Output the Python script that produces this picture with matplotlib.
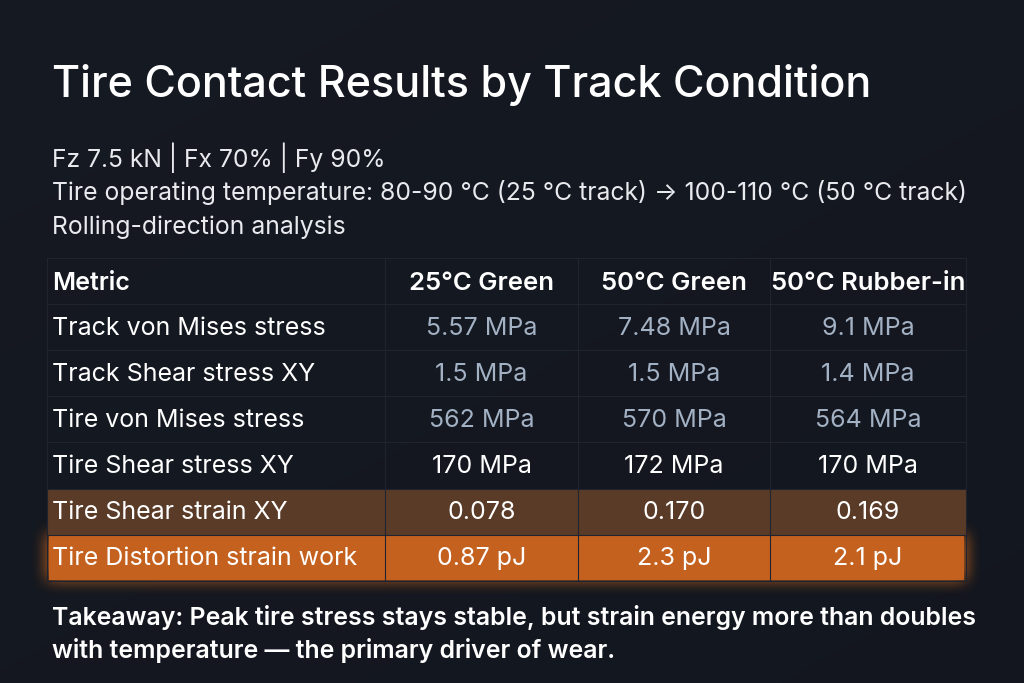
import numpy as np
import matplotlib
matplotlib.use("Agg")
import matplotlib.pyplot as plt
from matplotlib.patches import Rectangle

plt.rcParams['font.family'] = ['Inter', 'DejaVu Sans']

title = "Tire Contact Results by Track Condition"
subtitle_lines = [
    "Fz 7.5 kN | Fx 70% | Fy 90%",
    "Tire operating temperature: 80-90 °C (25 °C track) → 100-110 °C (50 °C track)",
    "Rolling-direction analysis",
]
columns = ["Metric", "25°C Green", "50°C Green", "50°C Rubber-in"]
metrics = [
    "Track von Mises stress",
    "Track Shear stress XY",
    "Tire von Mises stress",
    "Tire Shear stress XY",
    "Tire Shear strain XY",
    "Tire Distortion strain work",
]
green25 = ["5.57 MPa", "1.5 MPa", "562 MPa", "170 MPa", "0.078", "0.87 pJ"]
green50 = ["7.48 MPa", "1.5 MPa", "570 MPa", "172 MPa", "0.170", "2.3 pJ"]
rubber50 = ["9.1 MPa", "1.4 MPa", "564 MPa", "170 MPa", "0.169", "2.1 pJ"]
takeaway = ("Takeaway: Peak tire stress stays stable, but strain energy more than doubles\n"
            "with temperature — the primary driver of wear.")

W, H = 1024, 683
fig = plt.figure(figsize=(W / 100, H / 100), dpi=100)
ax = fig.add_axes([0, 0, 1, 1])
ax.set_xlim(0, W)
ax.set_ylim(H, 0)
ax.axis('off')

# background gradient
yy, xx = np.mgrid[0:H, 0:W]
base = np.array([0.085, 0.100, 0.135])
shade = 1.0 - 0.05 * (xx / W) - 0.06 * (yy / H)
bg = base[None, None, :] * shade[..., None]
ax.imshow(bg, extent=[0, W, H, 0], zorder=0, aspect='auto')

# Title & subtitle
ax.text(52, 85, title, color='white', fontsize=31, fontweight='medium', va='center', ha='left')
for i, line in enumerate(subtitle_lines):
    ax.text(52, 158 + 34.5 * i, line, color='#e8eaee', fontsize=17.8, va='center', ha='left')

# Table geometry
left, right = 47, 966
col_edges = [left, 385, 578, 770, right]
row_top = 258
row_h = 46.1
nrows = len(metrics) + 1

# orange glow
hl = len(metrics) - 1
y0 = row_top + row_h * (hl + 1)
y1 = y0 + row_h
mask = np.zeros((H, W))
mask[int(y0):int(y1), left:right] = 1.0


def blur(a, r):
    for axis in (0, 1):
        c = np.cumsum(np.pad(a, [(r + 1, r) if k == axis else (0, 0) for k in range(2)]), axis=axis)
        if axis == 0:
            a = (c[2 * r + 1:, :] - c[:-2 * r - 1, :]) / (2 * r + 1)
        else:
            a = (c[:, 2 * r + 1:] - c[:, :-2 * r - 1]) / (2 * r + 1)
    return a


g = blur(blur(mask, 8), 8)
glow = np.zeros((H, W, 4))
glow[..., 0] = 0.85
glow[..., 1] = 0.42
glow[..., 2] = 0.12
glow[..., 3] = np.clip(g * 0.9, 0, 1)
ax.imshow(glow, extent=[0, W, H, 0], zorder=1, aspect='auto')

# highlight rows
ax.add_patch(Rectangle((left, row_top + row_h * hl), right - left, row_h,
                       facecolor='#5a3b27', edgecolor='none', zorder=2))
ax.add_patch(Rectangle((left + 2, y0 + 1), right - left - 4, row_h - 2,
                       facecolor='#c4611f', edgecolor='none', zorder=2))

# grid lines
grid_c = '#1f2430'
for r in range(nrows + 1):
    y = row_top + row_h * r
    ax.plot([left, right], [y, y], color=grid_c, lw=0.8, zorder=3)
for x in col_edges:
    ax.plot([x, x], [row_top, row_top + row_h * nrows], color=grid_c, lw=0.8, zorder=3)

# header
hy = row_top + row_h / 2 + 2
fs = 18
ax.text(52, hy, columns[0], color='white', fontsize=fs, fontweight='semibold', va='center', ha='left', zorder=4)
for j in range(1, 4):
    cx = (col_edges[j] + col_edges[j + 1]) / 2
    ax.text(cx, hy, columns[j], color='white', fontsize=18.5, fontweight='semibold',
            va='center', ha='center', zorder=4)

# body
vals = [green25, green50, rubber50]
for i, m in enumerate(metrics):
    cy = row_top + row_h * (i + 1.5) + 1
    ax.text(52, cy, m, color='white', fontsize=fs, va='center', ha='left', zorder=4)
    vc = '#a3b1c4' if i < 3 else 'white'
    for j in range(3):
        cx = (col_edges[j + 1] + col_edges[j + 2]) / 2
        ax.text(cx, cy, vals[j][i], color=vc, fontsize=fs, va='center', ha='center', zorder=4)

# takeaway
ax.text(52, 634, takeaway, color='white', fontsize=17.9, fontweight='semibold', va='center', ha='left',
        linespacing=1.4, zorder=4)

fig.savefig('out.png', dpi=100, facecolor=fig.get_facecolor())
